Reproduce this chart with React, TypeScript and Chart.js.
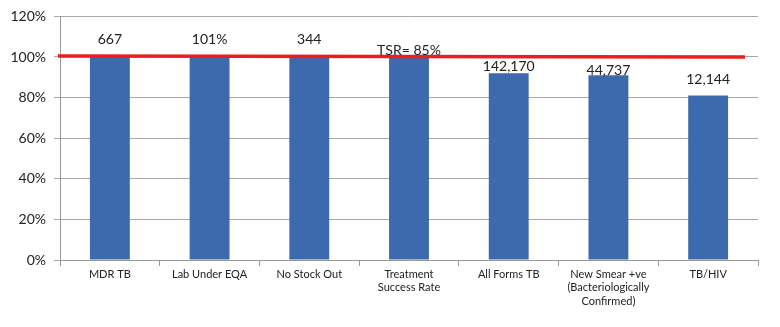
import React, { useEffect, useRef } from "react";
import { Chart, registerables } from "chart.js";

Chart.register(...registerables);

const categories: (string | string[])[] = [
  "MDR TB",
  "Lab Under EQA",
  "No Stock Out",
  ["Treatment", "Success Rate"],
  "All Forms TB",
  ["New Smear +ve", "(Bacteriologically", "Confirmed)"],
  "TB/HIV",
];
const values = [100, 100, 100, 100, 92, 91, 81];
const barLabels = ["667", "101%", "344", "TSR= 85%", "142,170", "44,737", "12,144"];
const targetValue = 100;
const yTicks = [0, 20, 40, 60, 80, 100, 120];

const FONT = "Lato, 'Open Sans', sans-serif";

export default function App() {
  const ref = useRef<HTMLCanvasElement | null>(null);
  useEffect(() => {
    if (!ref.current) return;
    const labelOffsets = [18, 18, 18, 7, 7, 5, 16];
    const overlay = {
      id: "overlay",
      afterDatasetsDraw(chart: any) {
        const { ctx, chartArea, scales } = chart;
        const y = scales.y.getPixelForValue(targetValue);
        ctx.save();
        ctx.strokeStyle = "#ee1c1c";
        ctx.lineWidth = 3.5;
        ctx.beginPath();
        ctx.moveTo(chartArea.left - 2, y - 1);
        ctx.lineTo(chartArea.right - 13, y);
        ctx.stroke();
        const meta = chart.getDatasetMeta(0);
        ctx.fillStyle = "#222";
        ctx.font = `14px ${FONT}`;
        ctx.textAlign = "center";
        ctx.textBaseline = "middle";
        meta.data.forEach((bar: any, i: number) => {
          ctx.fillText(barLabels[i], bar.x, bar.y - labelOffsets[i]);
        });
        ctx.restore();
      },
    };
    const chart = new Chart(ref.current, {
      type: "bar",
      data: {
        labels: categories,
        datasets: [
          {
            data: values,
            backgroundColor: "#3d69ad",
            barPercentage: 0.4,
            categoryPercentage: 1,
          },
        ],
      },
      options: {
        animation: false,
        responsive: false,
        layout: { padding: { top: 11, right: 22, left: 0, bottom: 0 } },
        plugins: { legend: { display: false }, tooltip: { enabled: false } },
        scales: {
          x: {
            grid: {
              drawOnChartArea: false,
              tickLength: 6,
              color: "#9a9a9a",
              offset: true,
            },
            border: { color: "#9a9a9a" },
            ticks: {
              color: "#222",
              font: { family: FONT, size: 11 },
              maxRotation: 0,
              autoSkip: false,
              padding: 2,
            },
            afterFit(scale: any) {
              scale.height = 67;
            },
          },
          y: {
            min: 0,
            max: 120,
            afterBuildTicks(scale: any) {
              scale.ticks = yTicks.map((v) => ({ value: v }));
            },
            grid: { color: "#a8a8a8", tickLength: 6 },
            border: { color: "#9a9a9a" },
            ticks: {
              color: "#222",
              font: { family: FONT, size: 14 },
              padding: 8,
              callback: (v: any) => v + "%",
            },
            afterFit(scale: any) {
              scale.width = 60;
            },
          },
        },
      },
      plugins: [overlay],
    });
    return () => chart.destroy();
  }, []);
  return (
    <div style={{ position: "fixed", left: 0, top: 0, width: 780, height: 327, background: "#fff" }}>
      <canvas ref={ref} width={780} height={327} />
    </div>
  );
}
